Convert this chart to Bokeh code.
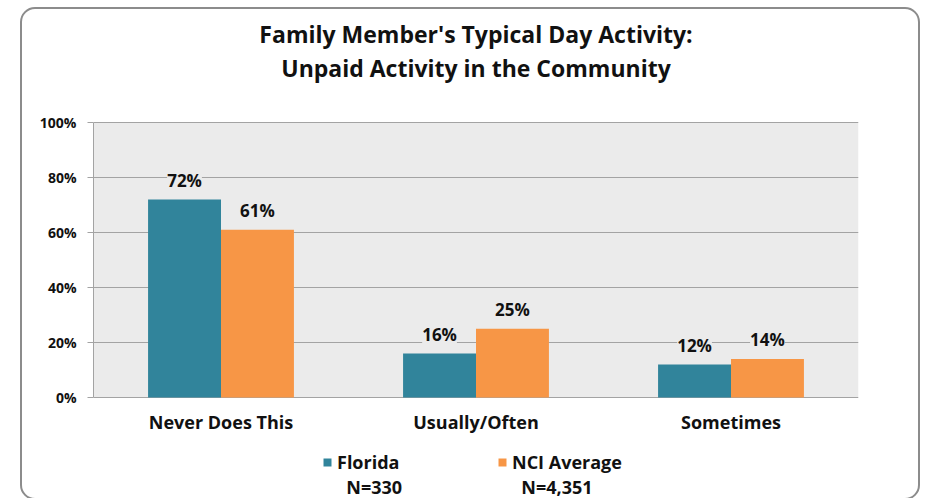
from bokeh.plotting import figure
from bokeh.models import (ColumnDataSource, FactorRange, Range1d, NumeralTickFormatter, FixedTicker,
                          LabelSet, Legend, LegendItem, Title, BoxAnnotation)
from bokeh.core.properties import value
from bokeh.transform import dodge
from bokeh.embed import file_html
from bokeh.resources import INLINE

categories = ["Never Does This", "Usually/Often", "Sometimes"]
florida = [0.72, 0.16, 0.12]
nci = [0.61, 0.25, 0.14]
florida_labels = ["72%", "16%", "12%"]
nci_labels = ["61%", "25%", "14%"]
y_ticks = [0, 0.2, 0.4, 0.6, 0.8, 1.0]
title_lines = ["Family Member's Typical Day Activity:", "Unpaid Activity in the Community"]
series_names = ["Florida", "NCI Average"]
series_n = ["N=330", "N=4,351"]

FL_COLOR = "#31849B"
NCI_COLOR = "#F79646"
PLOT_BG = "#EBEBEB"
GRID = "#A3A3A3"
FONT = "Open Sans"
TXT = "#111111"

src = ColumnDataSource(dict(cat=categories, fl=florida, nci=nci,
                            fl_lab=florida_labels, nci_lab=nci_labels))

# frame reaches from under the title to the bottom edge; the 0..1 band is the plot area
p = figure(x_range=FactorRange(*categories), y_range=Range1d(-0.378, 1.142),
           width=902, height=495, output_backend="svg", toolbar_location=None,
           min_border_left=74, min_border_right=63, min_border_top=77, min_border_bottom=0)
p.styles = {"margin-left": "19px", "margin-top": "6px",
            "outline": "2px solid #8C8C8C", "outline-offset": "-3px",
            "border-radius": "16px", "clip-path": "inset(0px 0px 3px 0px)"}

p.background_fill_color = None
p.border_fill_color = None
p.outline_line_color = None

# grey plot area between 0% and 100%
p.add_layout(BoxAnnotation(bottom=0, top=1.0, fill_color=PLOT_BG, fill_alpha=1,
                           line_color=None, level="image"))

bw = 0.286
r_fl = p.vbar(x=dodge("cat", -bw / 2, range=p.x_range), top="fl", width=bw, source=src,
              fill_color=FL_COLOR, line_color=None)
r_nci = p.vbar(x=dodge("cat", bw / 2, range=p.x_range), top="nci", width=bw, source=src,
               fill_color=NCI_COLOR, line_color=None)

for col, lab, off in (("fl", "fl_lab", -bw / 2), ("nci", "nci_lab", bw / 2)):
    p.add_layout(LabelSet(x=dodge("cat", off, range=p.x_range), y=col, text=lab, source=src,
                          text_align="center", text_baseline="bottom", y_offset=8,
                          text_font=value(FONT), text_font_style="bold", text_font_size="17px",
                          text_color=TXT, background_fill_color=PLOT_BG))

# category labels under the 0% line
p.add_layout(LabelSet(x="cat", y=0, text="cat", source=src, text_align="center",
                      text_baseline="middle", y_offset=-24,
                      text_font=value(FONT), text_font_style="bold", text_font_size="18px",
                      text_color=TXT))

# axes
p.xaxis.visible = False
p.yaxis.bounds = (0, 1.0)
p.yaxis.ticker = FixedTicker(ticks=y_ticks)
p.yaxis.formatter = NumeralTickFormatter(format="0%")
p.yaxis.major_label_text_font = FONT
p.yaxis.major_label_text_font_style = "bold"
p.yaxis.major_label_text_font_size = "14px"
p.yaxis.major_label_text_color = TXT
p.yaxis.axis_line_color = GRID
p.yaxis.major_tick_line_color = GRID
p.yaxis.major_tick_out = 6
p.yaxis.major_tick_in = 0
p.yaxis.minor_tick_line_color = None
p.yaxis.major_label_standoff = 11

p.xgrid.grid_line_color = None
p.ygrid.ticker = FixedTicker(ticks=y_ticks)
p.ygrid.grid_line_color = GRID
p.ygrid.grid_line_width = 1.2
p.ygrid.level = "underlay"

# two-line title (line nearest to the frame is added first)
for t in reversed(title_lines):
    p.add_layout(Title(text=t, align="center", text_font=FONT, text_font_style="bold",
                       text_font_size="23px", text_color=TXT, standoff=0), "above")

# legend: names on the first row, sample sizes on the second
items = [LegendItem(label=series_names[0], renderers=[r_fl]),
         LegendItem(label=series_names[1], renderers=[r_nci]),
         LegendItem(label="\u00a0\u00a0" + series_n[0], renderers=[]),
         LegendItem(label="\u00a0\u00a0" + series_n[1], renderers=[])]
leg = Legend(items=items, orientation="horizontal", ncols=2, location=(229, 2),
             glyph_width=10, glyph_height=10, label_standoff=5, spacing=0,
             label_width=160, label_height=25,
             padding=0, margin=0, border_line_color=None, background_fill_alpha=0,
             label_text_font=FONT, label_text_font_style="bold",
             label_text_font_size="18px", label_text_color=TXT)
p.add_layout(leg)

open("out.html", "w").write(file_html(p, INLINE))
